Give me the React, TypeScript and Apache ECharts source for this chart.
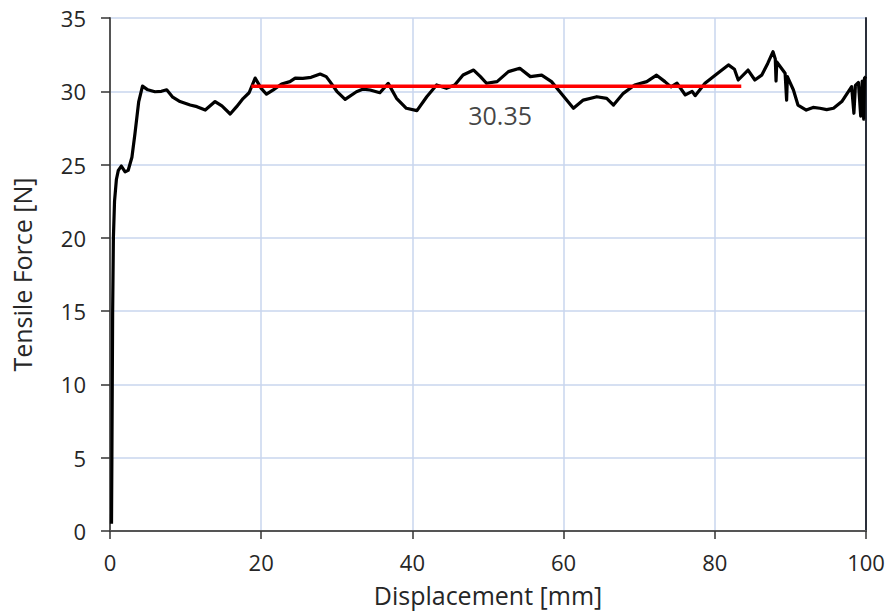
import React, { useEffect, useRef } from "react";
import * as echarts from "echarts";

const displacement = [
  0.2, 0.25, 0.3, 0.35, 0.45, 0.6, 0.85, 1.1, 1.5, 2.0, 2.4, 2.9, 3.3, 3.8, 4.3, 5.0, 5.95, 6.8, 7.5, 8.3,
  9.26, 10.6, 11.5, 12.6, 13.9, 14.8, 15.9, 16.75, 17.6, 18.4, 19.2, 20.0, 20.7, 21.6, 22.7, 23.8, 24.5, 25.5,
  26.6, 27.8, 28.6, 29.1, 30.0, 31.1, 32.6, 33.5, 34.4, 35.7, 36.8, 37.9, 39.2, 40.6, 41.9, 43.2, 44.5, 45.6,
  46.7, 48.1, 49.0, 49.8, 51.2, 52.7, 54.2, 55.6, 57.1, 58.4, 59.5, 61.3, 62.6, 64.4, 65.7, 66.6, 67.9, 69.4,
  71.0, 72.3, 73.4, 74.2, 75.0, 76.1, 77.0, 77.4, 78.7, 80.3, 81.8, 82.6, 83.1, 84.4, 85.3, 86.2, 87.0, 87.7,
  88.0, 88.1, 88.2, 89.3, 89.5, 89.6, 90.4, 91.0, 92.1, 93.0, 93.9, 94.8, 95.7, 96.8, 98.1, 98.4, 98.6, 99.0,
  99.3, 99.5, 99.7, 99.8, 100,
];
const force = [
  0.5, 5, 10, 15, 20, 22.5, 24, 24.6, 24.9, 24.5, 24.6, 25.5, 27.1, 29.3, 30.35, 30.1, 29.97, 30.0, 30.1, 29.6,
  29.3, 29.06, 28.95, 28.72, 29.3, 29.0, 28.45, 28.95, 29.5, 29.9, 30.9, 30.2, 29.8, 30.1, 30.5, 30.66, 30.9, 30.88,
  30.95, 31.18, 31.0, 30.66, 30.0, 29.45, 29.97, 30.15, 30.09, 29.9, 30.54, 29.52, 28.84, 28.68, 29.63, 30.43, 30.2, 30.43,
  31.11, 31.45, 31.0, 30.55, 30.66, 31.34, 31.57, 31.0, 31.1, 30.66, 29.97, 28.84, 29.4, 29.63, 29.52, 29.06, 29.86, 30.43,
  30.66, 31.1, 30.66, 30.3, 30.55, 29.75, 30.0, 29.7, 30.55, 31.2, 31.8, 31.5, 30.77, 31.45, 30.77, 31.1, 31.9, 32.7,
  32.2, 30.7, 32.0, 31.23, 29.4, 31.0, 30.09, 29.06, 28.72, 28.9, 28.84, 28.75, 28.84, 29.3, 30.32, 28.5, 30.4, 30.6,
  28.3, 30.7, 28.1, 30.9, 31.0,
];

const averageForce = 30.35;
const averageRange = [18.7, 83.5];
const averageLabelAt = [51.6, 28.4];

const xTicks = [0, 20, 40, 60, 80, 100];
const yTicks = [0, 5, 10, 15, 20, 25, 30, 35];

const FONT = "'Open Sans', 'Noto Sans', sans-serif";
const TEXT = "#262626";

export default function App() {
  const ref = useRef<HTMLDivElement>(null);
  useEffect(() => {
    if (!ref.current) return;
    const chart = echarts.init(ref.current, undefined, { renderer: "svg" });
    const curve = displacement.map((x, i) => [x, force[i]]);
    const avgLine = averageRange.map((x) => [x, averageForce]);
    chart.setOption({
      animation: false,
      backgroundColor: "#ffffff",
      grid: { left: 110, right: 24, top: 18, bottom: 83, containLabel: false },
      xAxis: {
        type: "value",
        min: xTicks[0],
        max: xTicks[xTicks.length - 1],
        interval: 20,
        name: "Displacement [mm]",
        nameLocation: "middle",
        nameGap: 51,
        nameTextStyle: { fontFamily: FONT, fontSize: 25, color: TEXT },
        axisLine: { show: true, lineStyle: { color: "#555", width: 2 } },
        axisTick: { show: true, inside: false, length: 8, lineStyle: { color: "#333", width: 1.5 } },
        axisLabel: { fontFamily: FONT, fontSize: 22, color: TEXT, margin: 20 },
        splitLine: { show: true, lineStyle: { color: "#c8d6ee", width: 1.5 } },
      },
      yAxis: [
        {
          type: "value",
          min: yTicks[0],
          max: yTicks[yTicks.length - 1],
          interval: 5,
          name: "Tensile Force [N]",
          nameLocation: "middle",
          nameGap: 76,
          nameTextStyle: { fontFamily: FONT, fontSize: 25, color: TEXT },
          axisLine: { show: true, lineStyle: { color: "#555", width: 2 } },
          axisTick: { show: true, inside: false, length: 9, lineStyle: { color: "#333", width: 1.5 } },
          axisLabel: { fontFamily: FONT, fontSize: 22, color: TEXT, margin: 24 },
          splitLine: { show: true, lineStyle: { color: "#c8d6ee", width: 1.5 } },
        },
        {
          type: "value",
          position: "right",
          min: yTicks[0],
          max: yTicks[yTicks.length - 1],
          interval: 5,
          axisLine: { show: true, lineStyle: { color: "#2a2f3a", width: 2 } },
          axisTick: { show: false },
          axisLabel: { show: false },
          splitLine: { show: false },
        },
      ],
      series: [
        {
          type: "line",
          data: curve,
          showSymbol: false,
          symbol: "none",
          lineStyle: { color: "#000", width: 3.2, join: "round" },
          z: 3,
        },
        {
          type: "line",
          data: avgLine,
          showSymbol: false,
          symbol: "none",
          lineStyle: { color: "#ff0000", width: 3.5 },
          z: 4,
        },
        {
          type: "scatter",
          data: [averageLabelAt],
          symbolSize: 0,
          silent: true,
          label: {
            show: true,
            position: "inside",
            formatter: () => averageForce.toFixed(2),
            fontFamily: FONT,
            fontSize: 25,
            color: "#111",
            textBorderWidth: 0,
          },
          z: 5,
        },
      ],
    });
    return () => chart.dispose();
  }, []);
  return (
    <div
      ref={ref}
      style={{ position: "fixed", left: 0, top: 0, width: 890, height: 614 }}
    />
  );
}
